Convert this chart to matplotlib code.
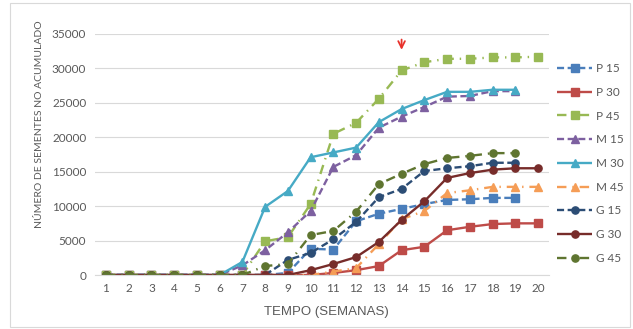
import numpy as np
import matplotlib.pyplot as plt
from matplotlib.patches import Rectangle

nan = np.nan

# semanas de avaliação
semanas = list(range(1, 21))

# número acumulado de sementes por tratamento
p15 = [0, 0, 0, 0, 0, 0, 0, 0, 300, 3800, 3700, 7800, 8900, 9600, 10300, 10900, 11000, 11200, 11200, nan]
p30 = [0, 0, 0, 0, 0, 0, 0, 0, 0, 0, 300, 700, 1300, 3600, 4100, 6500, 7000, 7400, 7500, 7500]
p45 = [0, 0, 0, 0, 0, 0, 0, 4900, 5500, 10300, 20500, 22100, 25600, 29700, 30900, 31400, 31400, 31600, 31600, 31700]
m15 = [0, 0, 0, 0, 0, 0, 1400, 3600, 6200, 9300, 15700, 17400, 21400, 23000, 24400, 25900, 26000, 26700, 26700, nan]
m30 = [0, 0, 0, 0, 0, 0, 1900, 9900, 12200, 17100, 17800, 18500, 22200, 24100, 25400, 26600, 26600, 26900, 26900, nan]
m45 = [0, 0, 0, 0, 0, 0, 0, 0, 0, 0, 500, 1000, 4500, 8100, 9300, 11900, 12300, 12800, 12800, 12800]
g15 = [0, 0, 0, 0, 0, 0, 0, 0, 2200, 3200, 5200, 7700, 11300, 12500, 15100, 15500, 15800, 16300, 16300, nan]
g30 = [0, 0, 0, 0, 0, 0, 0, 0, 0, 700, 1600, 2600, 4800, 8000, 10700, 14100, 14800, 15300, 15500, 15500]
g45 = [0, 0, 0, 0, 0, 0, 0, 1300, 1600, 5800, 6400, 9200, 13200, 14700, 16100, 17000, 17300, 17700, 17700, nan]

nomes = ["P 15", "P 30", "P 45", "M 15", "M 30", "M 45", "G 15", "G 30", "G 45"]
series = [p15, p30, p45, m15, m30, m45, g15, g30, g45]
cores = ["#4A7EBB", "#BE4B48", "#98B954", "#7D60A0", "#46AAC5", "#F59D56",
         "#2C4D75", "#772C2A", "#5F7530"]
marcadores = ["s", "s", "s", "^", "^", "^", "o", "o", "o"]

tracejado = (3, 1.5)
traco_ponto = (4, 2.5, 0.6, 2.5)
estilos = [tracejado, None, traco_ponto] * 3

fig = plt.figure(figsize=(6.33, 3.29), dpi=100)
ax = fig.add_axes([94.6 / 633, 1 - 275 / 329, 454.8 / 633, 241 / 329])

for nome, vals, cor, mk, est in zip(nomes, series, cores, marcadores, estilos):
    linha, = ax.plot(semanas, vals, color=cor, marker=mk, markersize=5.2,
                     linewidth=1.7, label=nome, solid_capstyle="butt")
    if est is not None:
        linha.set_dashes(est)

# seta indicando a semana 14
ax.annotate("", xy=(14, 32300), xytext=(14, 34600),
            arrowprops=dict(arrowstyle="->", color="#E8312B", lw=1.3,
                            mutation_scale=12))

ax.set_xlim(0.5, 20.5)
ax.set_ylim(0, 35000)
ax.set_xticks(semanas)
ax.set_yticks(range(0, 35001, 5000))
ax.grid(axis="y", color="#D9D9D9", linewidth=0.8)
ax.set_axisbelow(True)
for lado in ["top", "right", "left"]:
    ax.spines[lado].set_visible(False)
ax.spines["bottom"].set_color("#D9D9D9")
ax.tick_params(length=0, labelsize=8.5, labelcolor="#595959", pad=6)
for t in ax.get_xticklabels() + ax.get_yticklabels():
    t.set_family("Lato")

ax.set_ylabel("NÚMERO DE SEMENTES NO ACUMULADO", fontsize=7.5,
              color="#595959", family="Lato")
ax.yaxis.set_label_coords(-0.111, 0.625)
ax.set_xlabel("TEMPO (SEMANAS)", fontsize=9.5, color="#595959",
              family=["Liberation Sans Narrow", "Liberation Sans"])
ax.xaxis.set_label_coords(0.51, -0.13)

fig.legend(loc="upper left", bbox_to_anchor=(557 / 633, 1 - 63 / 329),
           frameon=False, borderpad=0, borderaxespad=0, handlelength=3.0,
           handletextpad=0.3, labelspacing=1.08,
           prop={"family": "Lato", "size": 8.5}, labelcolor="#595959")

# moldura externa do gráfico
fig.patches.append(Rectangle((10 / 633, 2 / 329), 620 / 633, 324 / 329,
                             transform=fig.transFigure, fill=False,
                             edgecolor="#D9D9D9", linewidth=0.8))

fig.savefig("out.png", dpi=100)
